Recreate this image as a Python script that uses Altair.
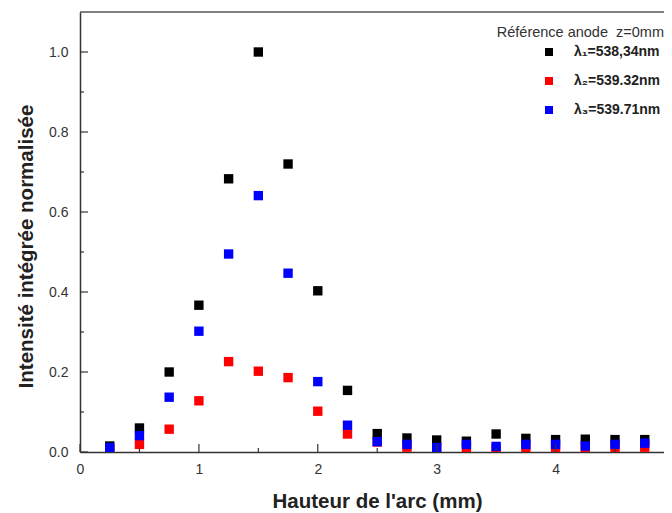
import altair as alt
import pandas as pd

# ---- data ----
hauteur = [0.25, 0.5, 0.75, 1.0, 1.25, 1.5, 1.75, 2.0, 2.25, 2.5,
           2.75, 3.0, 3.25, 3.5, 3.75, 4.0, 4.25, 4.5, 4.75]
lambda1 = [0.015, 0.060, 0.200, 0.367, 0.683, 1.000, 0.720, 0.403, 0.154, 0.046,
           0.035, 0.030, 0.027, 0.045, 0.034, 0.031, 0.032, 0.031, 0.031]
lambda2 = [0.006, 0.019, 0.057, 0.128, 0.226, 0.202, 0.186, 0.102, 0.045, 0.025,
           0.012, 0.008, 0.010, 0.008, 0.010, 0.010, 0.010, 0.011, 0.012]
lambda3 = [0.011, 0.041, 0.137, 0.302, 0.495, 0.641, 0.447, 0.176, 0.067, 0.026,
           0.019, 0.011, 0.019, 0.014, 0.019, 0.019, 0.015, 0.019, 0.022]
series = ["λ₁=538,34nm", "λ₂=539.32nm", "λ₃=539.71nm"]
colors = ["#000000", "#ff0000", "#0000ff"]
legend_title = ["Référence anode\u00a0 z=0mm"]
x_major = [0, 1, 2, 3, 4]
x_minor = [0.5, 1.5, 2.5, 3.5, 4.5]
y_major = [0.0, 0.2, 0.4, 0.6, 0.8, 1.0]
y_minor = [0.1, 0.3, 0.5, 0.7, 0.9]

rows = []
for i, (name, vals) in enumerate(zip(series, [lambda1, lambda2, lambda3])):
    for xv, yv in zip(hauteur, vals):
        rows.append({"x": xv, "y": yv, "serie": name, "ord": i})
df = pd.DataFrame(rows)

W, H = 584, 440
FONT = "Liberation Sans"
xscale = alt.Scale(domain=[0, 4.912], nice=False, zero=False)
yscale = alt.Scale(domain=[0, 1.1], nice=False)
xaxis = alt.Axis(title="Hauteur de l'arc (mm)", values=x_major, format="d",
                 labelFlush=False, titleX=297, titleY=39, titleBaseline="top")
yaxis = alt.Axis(title="Intensité intégrée normalisée", values=y_major, format=".1f",
                 labelFlush=False, titleX=-44, titleY=234)

points = alt.Chart(df).mark_square(size=88, opacity=1, strokeWidth=0, clip=True).encode(
    x=alt.X("x:Q", scale=xscale, axis=xaxis),
    y=alt.Y("y:Q", scale=yscale, axis=yaxis),
    color=alt.Color("serie:N", scale=alt.Scale(domain=series, range=colors),
                    legend=alt.Legend(orient="none", legendX=462, legendY=33, title=None,
                                      symbolType="square", symbolSize=64,
                                      symbolStrokeWidth=0, symbolOpacity=1,
                                      labelFontSize=14, labelFontWeight="bold",
                                      labelFont=FONT, labelColor="#222",
                                      labelOffset=18, rowPadding=15, padding=0)),
    order=alt.Order("ord:Q"),
)

def vticks(vals, length):
    return alt.Chart(pd.DataFrame({"y": vals})).mark_rule(color="#333", strokeWidth=1.2).encode(
        y=alt.Y("y:Q", scale=yscale, axis=yaxis),
        x=alt.value(0), x2=alt.value(length))

def hticks(vals, length):
    return alt.Chart(pd.DataFrame({"x": vals})).mark_rule(color="#333", strokeWidth=1.2).encode(
        x=alt.X("x:Q", scale=xscale, axis=xaxis),
        y=alt.value(H), y2=alt.value(H - length))

frame = alt.Chart(pd.DataFrame({"f": [1]})).mark_rule(color="#555", strokeWidth=1.5).encode(
    x=alt.value(0), x2=alt.value(W), y=alt.value(0))

title_txt = alt.Chart(pd.DataFrame({"t": legend_title})).mark_text(
    align="right", baseline="middle", fontSize=14.5, font=FONT, color="#333").encode(
    text="t:N", x=alt.value(W), y=alt.value(21))

chart = alt.layer(
    points,
    vticks(y_major, 8), vticks(y_minor, 4),
    hticks(x_major, 8), hticks(x_minor, 4),
    frame, title_txt,
).properties(
    width=W, height=H,
    autosize=alt.AutoSizeParams(type="none"),
    padding={"left": 72, "top": 4, "right": 0, "bottom": 60},
).configure_view(stroke=None).configure_axis(
    grid=False, ticks=False, tickSize=0, domainColor="#333", domainWidth=1.5,
    labelFont=FONT, labelFontSize=14, labelColor="#333",
    titleFont=FONT, titleFontSize=20.5, titleFontWeight="bold", titleColor="#222",
).configure_axisX(labelPadding=10).configure_axisY(labelPadding=12)

chart.save("out.html", embed_options={"renderer": "svg", "actions": False})
